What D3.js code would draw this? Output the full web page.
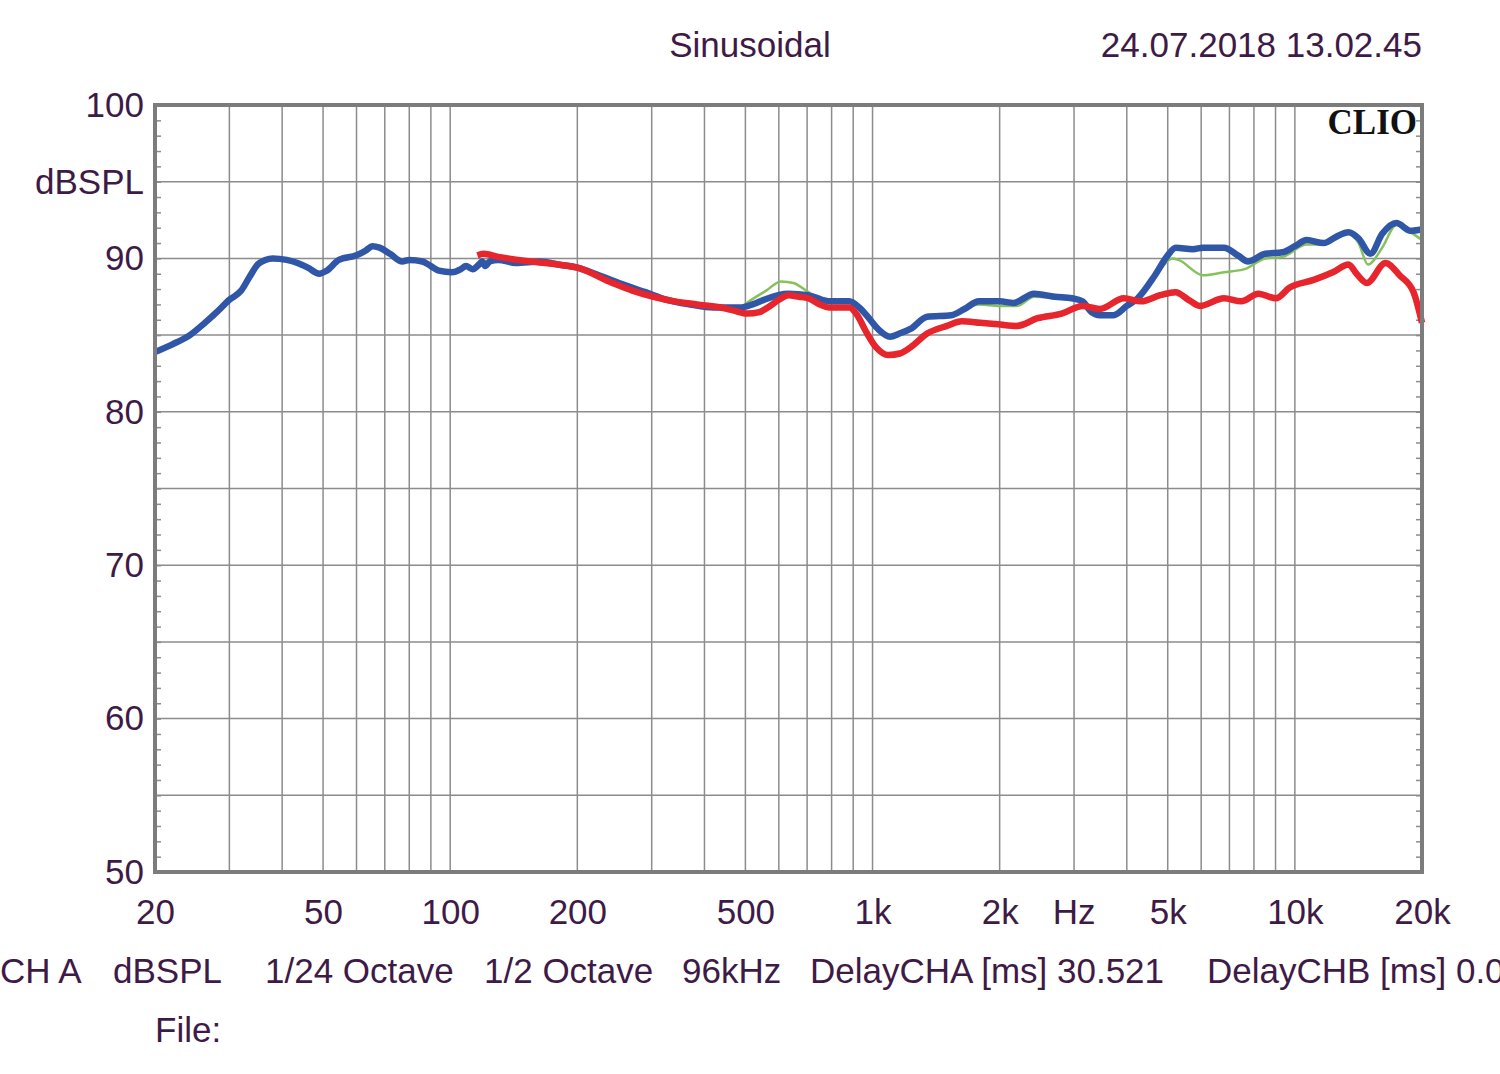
<!DOCTYPE html>
<html>
<head>
<meta charset="utf-8">
<script src="https://cdn.jsdelivr.net/npm/d3@7"></script>
<style>
  html, body { margin: 0; padding: 0; background: #fff; overflow: hidden; }
  svg text { font-family: "Liberation Sans", Arial, sans-serif; }
</style>
</head>
<body>
<div id="chart"></div>
<script>
// frequency response, [Hz, dBSPL]
const blueData = [
  [20,83.9],[22,84.4],[24.2,85.0],[26,85.7],[28,86.5],[30,87.3],[32,87.9],[33.5,88.8],[35,89.6],[36.5,89.9],
  [38,90.0],[41,89.9],[43.5,89.7],[46,89.4],[49,89.0],[51,89.2],[54.5,89.9],[60,90.2],[63,90.5],[65.5,90.8],
  [68,90.7],[72,90.3],[77,89.8],[80,89.9],[86,89.8],[90,89.5],[94,89.2],[101,89.1],[106,89.3],[109,89.5],
  [113,89.3],[117,89.6],[119,89.8],[121,89.5],[124,89.8],[130,89.9],[143,89.7],[163,89.8],[180,89.6],[200,89.4],
  [225,88.9],[251,88.4],[290,87.8],[326,87.3],[370,87.0],[420,86.8],[485,86.8],[520,87.0],[553,87.3],[631,87.7],
  [704,87.6],[760,87.3],[800,87.2],[881,87.2],[930,86.8],[974,86.2],[1030,85.4],[1100,84.9],[1158,85.1],[1230,85.4],
  [1347,86.2],[1536,86.3],[1650,86.7],[1786,87.2],[2000,87.2],[2156,87.1],[2414,87.7],[2700,87.5],[2968,87.4],[3142,87.2],
  [3300,86.5],[3452,86.3],[3722,86.3],[4000,86.9],[4244,87.4],[4664,88.9],[5000,90.2],[5220,90.7],[5736,90.6],[6068,90.7],
  [6794,90.7],[7328,90.2],[7750,89.8],[8514,90.3],[9354,90.4],[10000,90.8],[10670,91.2],[11700,91.0],[12500,91.4],[13400,91.7],
  [14150,91.3],[15100,90.3],[16100,91.6],[17400,92.3],[18800,91.8],[20000,91.9]
];

const redData = [
  [116,90.2],[120,90.3],[130,90.1],[155,89.8],[180,89.6],[200,89.4],[242,88.4],[270,87.9],[303,87.5],[340,87.2],
  [384,87.0],[437,86.8],[470,86.6],[505,86.4],[540,86.5],[565,86.8],[600,87.3],[631,87.6],[670,87.5],[704,87.4],
  [750,87.0],[788,86.8],[881,86.8],[920,86.3],[962,85.3],[1020,84.2],[1090,83.7],[1160,83.8],[1230,84.2],[1347,85.1],
  [1500,85.6],[1626,85.9],[1800,85.8],[1981,85.7],[2198,85.6],[2460,86.1],[2806,86.4],[3142,86.9],[3452,86.7],[3936,87.4],
  [4326,87.2],[4800,87.6],[5220,87.8],[5600,87.3],[5956,86.9],[6794,87.4],[7466,87.2],[8200,87.7],[9014,87.4],[9722,88.1],
  [11080,88.6],[12300,89.1],[13400,89.6],[14000,89.0],[14800,88.4],[16400,89.7],[17700,88.9],[19100,87.8],[20000,85.8]
];

const greenData = [
  [120,89.8],[130,89.9],[143,89.7],[163,89.8],[180,89.6],[200,89.4],[225,88.9],[251,88.4],[290,87.8],[326,87.3],
  [370,87.0],[420,86.8],[485,86.8],[510,87.2],[560,87.9],[607,88.5],[650,88.4],[696,87.9],[760,87.3],[800,87.2],
  [881,87.2],[930,86.8],[974,86.2],[1030,85.4],[1100,84.9],[1158,85.1],[1230,85.4],[1347,86.2],[1536,86.3],[1650,86.7],
  [1786,87.0],[2000,86.9],[2200,86.9],[2414,87.5],[2700,87.4],[2968,87.3],[3142,87.2],[3300,86.5],[3452,86.3],[3722,86.3],
  [4000,86.9],[4244,87.4],[4664,88.8],[5124,90.0],[5300,89.9],[6068,88.9],[6794,89.1],[7600,89.3],[8514,90.0],[9354,90.1],
  [10670,90.9],[11700,90.9],[13400,91.6],[14150,91.0],[14900,89.6],[16100,90.7],[17400,92.2],[18800,91.7],[20000,91.2]
];

const yTickLabels = [100, 90, 80, 70, 60, 50];
const xTickValues = [20, 50, 100, 200, 500, 1000, 2000, 5000, 10000, 20000];
const xTickLabels = ["20", "50", "100", "200", "500", "1k", "2k", "5k", "10k", "20k"];
const xGridValues = [20,30,40,50,60,70,80,90,100,200,300,400,500,600,700,800,900,1000,
                     2000,3000,4000,5000,6000,7000,8000,9000,10000,20000];
const footerItems = ["CH A", "dBSPL", "1/24 Octave", "1/2 Octave", "96kHz", "DelayCHA [ms] 30.521", "DelayCHB [ms] 0.0"];
const footerX = [0, 113, 265, 484, 682, 810, 1207];

// Настройки
const width = 1500;
const height = 1074;
const plot = { left: 155, right: 1422, top: 105, bottom: 872 };
const textColor = "#3e1a47";
const fontSize = 35;

const svg = d3.select("#chart")
  .append("svg")
  .attr("width", width)
  .attr("height", height)
  .style("display", "block");

const xScale = d3.scaleLog()
  .domain([20, 20000])
  .range([plot.left, plot.right]);

const yScale = d3.scaleLinear()
  .domain([50, 100])
  .range([plot.bottom, plot.top]);

// grid
svg.append("g")
  .selectAll("line")
  .data(xGridValues)
  .join("line")
  .attr("x1", d => xScale(d)).attr("x2", d => xScale(d))
  .attr("y1", plot.top).attr("y2", plot.bottom)
  .attr("stroke", "#8c8c8c").attr("stroke-width", 1.5);

svg.append("g")
  .selectAll("line")
  .data(d3.range(50, 101, 5))
  .join("line")
  .attr("x1", plot.left).attr("x2", plot.right)
  .attr("y1", d => yScale(d)).attr("y2", d => yScale(d))
  .attr("stroke", "#8c8c8c").attr("stroke-width", 1.5);

// small 1 dB ticks, left and right inside
const minor = d3.range(50, 101, 1);
svg.append("g")
  .attr("transform", `translate(${plot.left},0)`)
  .call(d3.axisRight(yScale).tickValues(minor).tickSize(6).tickFormat(""))
  .call(g => g.select(".domain").remove())
  .call(g => g.selectAll(".tick line").attr("stroke", "#8c8c8c").attr("stroke-width", 1.5));
svg.append("g")
  .attr("transform", `translate(${plot.right},0)`)
  .call(d3.axisLeft(yScale).tickValues(minor).tickSize(6).tickFormat(""))
  .call(g => g.select(".domain").remove())
  .call(g => g.selectAll(".tick line").attr("stroke", "#8c8c8c").attr("stroke-width", 1.5));

// y labels
svg.append("g")
  .attr("transform", `translate(${plot.left - 11},0)`)
  .call(d3.axisLeft(yScale).tickValues(yTickLabels).tickSize(0).tickPadding(0))
  .call(g => g.select(".domain").remove())
  .call(g => g.selectAll(".tick text")
    .attr("fill", textColor)
    .attr("font-size", fontSize)
    .attr("font-family", "Liberation Sans, Arial, sans-serif"));

svg.append("text")
  .attr("x", plot.left - 11).attr("y", yScale(95))
  .attr("dy", "0.35em")
  .attr("text-anchor", "end")
  .attr("fill", textColor)
  .attr("font-size", fontSize)
  .text("dBSPL");

// x labels
svg.append("g")
  .attr("transform", `translate(0,${plot.bottom + 27})`)
  .call(d3.axisBottom(xScale).tickValues(xTickValues).tickSize(0).tickPadding(0)
    .tickFormat((d, i) => xTickLabels[i]))
  .call(g => g.select(".domain").remove())
  .call(g => g.selectAll(".tick text")
    .attr("fill", textColor)
    .attr("font-size", fontSize)
    .attr("font-family", "Liberation Sans, Arial, sans-serif"));

svg.append("text")
  .attr("x", xScale(3000)).attr("y", plot.bottom + 52)
  .attr("text-anchor", "middle")
  .attr("fill", textColor)
  .attr("font-size", fontSize)
  .text("Hz");

// curves
const line = d3.line()
  .x(d => xScale(d[0]))
  .y(d => yScale(d[1]))
  .curve(d3.curveMonotoneX);

svg.append("path").datum(greenData)
  .attr("d", line).attr("fill", "none")
  .attr("stroke", "#86c25a").attr("stroke-width", 2.5);

svg.append("path").datum(blueData)
  .attr("d", line).attr("fill", "none")
  .attr("stroke", "#3056a8").attr("stroke-width", 6.5)
  .attr("stroke-linejoin", "round");

svg.append("path").datum(redData)
  .attr("d", line).attr("fill", "none")
  .attr("stroke", "#e6262c").attr("stroke-width", 6.5)
  .attr("stroke-linejoin", "round");

// frame
svg.append("rect")
  .attr("x", plot.left).attr("y", plot.top)
  .attr("width", plot.right - plot.left)
  .attr("height", plot.bottom - plot.top)
  .attr("fill", "none")
  .attr("stroke", "#7c7c7c").attr("stroke-width", 4);

svg.append("text")
  .attr("x", plot.right - 5).attr("y", 134)
  .attr("text-anchor", "end")
  .style("font-family", "Liberation Serif, DejaVu Serif, serif")
  .attr("font-weight", "bold")
  .attr("font-size", 35)
  .attr("fill", "#111")
  .text("CLIO");

// header
svg.append("text")
  .attr("x", 750).attr("y", 57)
  .attr("text-anchor", "middle")
  .attr("fill", textColor)
  .attr("font-size", fontSize)
  .text("Sinusoidal");

svg.append("text")
  .attr("x", plot.right).attr("y", 57)
  .attr("text-anchor", "end")
  .attr("fill", textColor)
  .attr("font-size", fontSize)
  .text("24.07.2018 13.02.45");

// footer
svg.append("g")
  .selectAll("text")
  .data(footerItems)
  .join("text")
  .attr("x", (d, i) => footerX[i])
  .attr("y", 983)
  .attr("fill", textColor)
  .attr("font-size", fontSize)
  .text(d => d);

svg.append("text")
  .attr("x", plot.left).attr("y", 1042)
  .attr("fill", textColor)
  .attr("font-size", fontSize)
  .text("File:");
</script>
</body>
</html>
